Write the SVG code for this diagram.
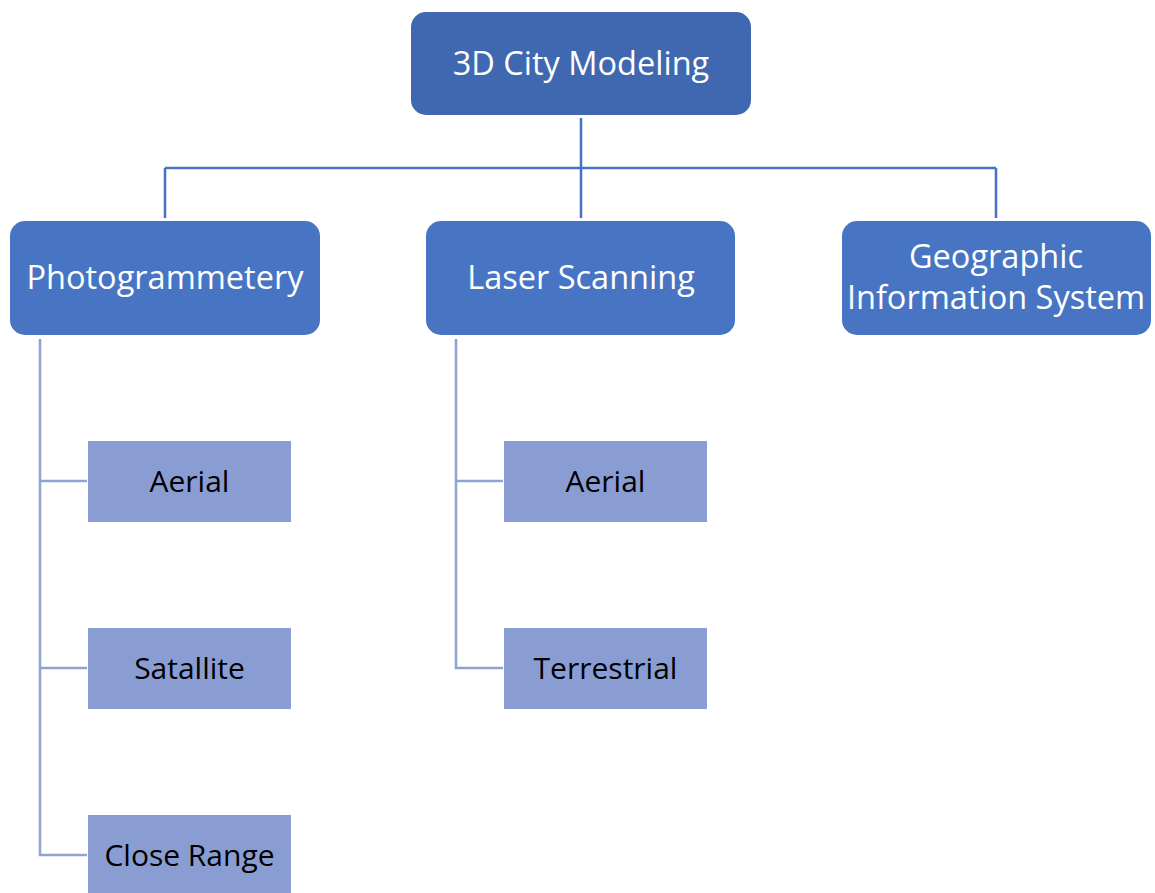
<svg xmlns="http://www.w3.org/2000/svg" width="1155" height="893" viewBox="0 0 1155 893">
  <style>
    .root { fill: #3F68B1; }
    .main { fill: #4775C4; }
    .sub { fill: #8A9DD2; }
    .tw { font-family: "Open Sans", "Liberation Sans", sans-serif; font-size: 32.5px; fill: #FFFFFF; text-anchor: middle; }
    .tb { font-family: "Open Sans", "Liberation Sans", sans-serif; font-size: 30px; fill: #000000; text-anchor: middle; }
    .c1 { fill: none; stroke: #4472C4; stroke-width: 2.5; }
    .c2 { fill: none; stroke: #8EA2D6; stroke-width: 2.5; }
  </style>
  <rect width="1155" height="893" fill="#FFFFFF"/>

  <g id="connectors">
    <path class="c1" d="M581 118 V218 M165 168 H996 M165 168 V218 M996 168 V218"/>
    <path class="c2" d="M40 339 V855 H87 M40 481 H87 M40 668 H87"/>
    <path class="c2" d="M456 339 V668 H503 M456 481 H503"/>
  </g>

  <g id="node-root">
    <rect class="root" x="411" y="12" width="340" height="103" rx="15"/>
    <text class="tw" x="581" y="75">3D City Modeling</text>
  </g>

  <g id="node-photogrammetry">
    <rect class="main" x="10" y="221" width="310" height="114" rx="15"/>
    <text class="tw" x="165" y="289">Photogrammetery</text>
  </g>
  <g id="node-laser">
    <rect class="main" x="426" y="221" width="309" height="114" rx="15"/>
    <text class="tw" x="581" y="289">Laser Scanning</text>
  </g>
  <g id="node-gis">
    <rect class="main" x="842" y="221" width="309" height="114" rx="15"/>
    <text class="tw" x="996" y="268">Geographic</text>
    <text class="tw" x="996" y="309">Information System</text>
  </g>

  <g id="node-pg-aerial">
    <rect class="sub" x="88" y="441" width="203" height="81"/>
    <text class="tb" x="189.5" y="492">Aerial</text>
  </g>
  <g id="node-pg-satellite">
    <rect class="sub" x="88" y="628" width="203" height="81"/>
    <text class="tb" x="189.5" y="679">Satallite</text>
  </g>
  <g id="node-pg-close">
    <rect class="sub" x="88" y="815" width="203" height="81"/>
    <text class="tb" x="189.5" y="866">Close Range</text>
  </g>
  <g id="node-ls-aerial">
    <rect class="sub" x="504" y="441" width="203" height="81"/>
    <text class="tb" x="605.5" y="492">Aerial</text>
  </g>
  <g id="node-ls-terrestrial">
    <rect class="sub" x="504" y="628" width="203" height="81"/>
    <text class="tb" x="605.5" y="679">Terrestrial</text>
  </g>
</svg>
